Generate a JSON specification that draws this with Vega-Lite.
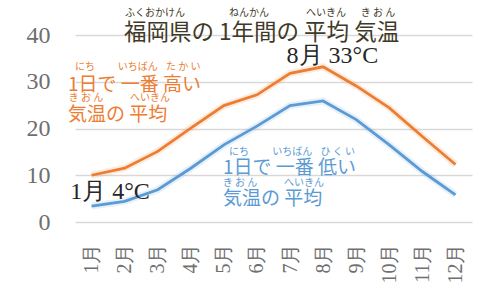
{
  "$schema": "https://vega.github.io/schema/vega-lite/v6.json",
  "width": 397,
  "height": 187,
  "autosize": {"type": "none"},
  "padding": {"left": 75, "top": 35, "right": 23, "bottom": 75},
  "background": "white",
  "config": {
    "view": {"stroke": null},
    "axisX": {"labelOverlap": false, "labelFlush": false, "labelBound": false, "labelSeparation": 0},
    "axisY": {"labelOverlap": false}
  },
  "datasets": {
    "temps": [
      {"month": 1, "high": 10.0, "low": 3.4},
      {"month": 2, "high": 11.5, "low": 4.4},
      {"month": 3, "high": 15.1, "low": 6.9},
      {"month": 4, "high": 20.1, "low": 11.5},
      {"month": 5, "high": 24.9, "low": 16.5},
      {"month": 6, "high": 27.2, "low": 20.5},
      {"month": 7, "high": 31.8, "low": 24.9},
      {"month": 8, "high": 33.2, "low": 25.9},
      {"month": 9, "high": 29.1, "low": 21.9},
      {"month": 10, "high": 24.4, "low": 16.5},
      {"month": 11, "high": 18.3, "low": 10.8},
      {"month": 12, "high": 12.3, "low": 5.8}
    ],
    "notes": [
      {"kind": "title", "text": "福岡県の 1年間の 平均 気温", "month": 6.14, "temp": 40.5},
      {"kind": "titleRuby", "text": "ふくおかけん", "month": 2.92, "temp": 44.65},
      {"kind": "titleRuby", "text": "ねんかん", "month": 5.76, "temp": 44.65},
      {"kind": "titleRuby", "text": "へいきん", "month": 8.09, "temp": 44.65},
      {"kind": "titleRuby", "text": "き お ん", "month": 9.66, "temp": 44.65},
      {"kind": "high", "text": "1日で 一番 高い", "month": 0.288, "temp": 29.4},
      {"kind": "high", "text": "気温の 平均", "month": 0.288, "temp": 22.8},
      {"kind": "highRuby", "text": "にち", "month": 0.80, "temp": 33.2},
      {"kind": "highRuby", "text": "いちばん", "month": 2.40, "temp": 33.2},
      {"kind": "highRuby", "text": "た か い", "month": 3.77, "temp": 33.2},
      {"kind": "highRuby", "text": "き お ん", "month": 0.83, "temp": 26.45},
      {"kind": "highRuby", "text": "へいきん", "month": 2.77, "temp": 26.45},
      {"kind": "low", "text": "1日で 一番 低い", "month": 4.97, "temp": 11.55},
      {"kind": "low", "text": "気温の 平均", "month": 4.97, "temp": 4.92},
      {"kind": "lowRuby", "text": "にち", "month": 5.46, "temp": 15.05},
      {"kind": "lowRuby", "text": "いちばん", "month": 7.07, "temp": 15.05},
      {"kind": "lowRuby", "text": "ひ く い", "month": 8.44, "temp": 15.05},
      {"kind": "lowRuby", "text": "き お ん", "month": 5.49, "temp": 8.3},
      {"kind": "lowRuby", "text": "へいきん", "month": 7.42, "temp": 8.3},
      {"kind": "peak", "text": "8月 33°C", "month": 8.28, "temp": 35.5},
      {"kind": "peak", "text": "1月 4°C", "month": 1.56, "temp": 6.48}
    ]
  },
  "encoding": {
    "x": {"field": "month", "type": "quantitative",
      "scale": {"domain": [0.5, 12.5], "nice": false, "zero": false},
      "axis": {"values": [1,2,3,4,5,6,7,8,9,10,11,12], "labelExpr": "datum.value + '月'", "labelAngle": -90,
        "grid": false, "domain": false, "ticks": false, "labelFont": "Liberation Serif", "labelFontSize": 20,
        "labelColor": "#6f6f6f", "labelPadding": 21, "labelFlush": false, "labelOverlap": false, "title": null}}
  },
  "layer": [
    {
      "data": {"name": "temps"},
      "mark": {"type": "line", "color": "#ED7D31", "strokeWidth": 7, "opacity": 0.15},
      "encoding": {
        "y": {"field": "high", "type": "quantitative",
          "scale": {"domain": [0, 40], "nice": false},
          "axis": {"values": [0,10,20,30,40], "grid": true, "gridColor": "#d9d9d9", "gridWidth": 1.5,
            "domain": false, "ticks": false, "labelFont": "Liberation Serif", "labelFontSize": 24,
            "labelColor": "#6f6f6f", "labelPadding": 25, "title": null}}
      }
    },
    {
      "data": {"name": "temps"},
      "mark": {"type": "line", "color": "#ED7D31", "strokeWidth": 2.8},
      "encoding": {"y": {"field": "high", "type": "quantitative"}}
    },
    {
      "data": {"name": "temps"},
      "mark": {"type": "line", "color": "#5B9BD5", "strokeWidth": 7, "opacity": 0.15},
      "encoding": {"y": {"field": "low", "type": "quantitative"}}
    },
    {
      "data": {"name": "temps"},
      "mark": {"type": "line", "color": "#5B9BD5", "strokeWidth": 2.8},
      "encoding": {"y": {"field": "low", "type": "quantitative"}}
    },
    {
      "data": {"name": "notes"},
      "transform": [{"filter": "datum.kind == 'title'"}],
      "mark": {"type": "text", "font": "Noto Sans CJK JP", "fontSize": 22.5, "align": "center", "baseline": "middle",
        "color": "#3f3a27"},
      "encoding": {"y": {"field": "temp", "type": "quantitative"}, "text": {"field": "text"}}
    },
    {
      "data": {"name": "notes"},
      "transform": [{"filter": "datum.kind == 'titleRuby'"}],
      "mark": {"type": "text", "font": "Noto Sans CJK JP", "fontSize": 10, "align": "center", "baseline": "middle",
        "color": "#3f3a27"},
      "encoding": {"y": {"field": "temp", "type": "quantitative"}, "text": {"field": "text"}}
    },
    {
      "data": {"name": "notes"},
      "transform": [{"filter": "datum.kind == 'high'"}],
      "mark": {"type": "text", "font": "Noto Sans CJK JP", "fontSize": 19, "align": "left", "baseline": "middle",
        "color": "#ED7D31"},
      "encoding": {"y": {"field": "temp", "type": "quantitative"}, "text": {"field": "text"}}
    },
    {
      "data": {"name": "notes"},
      "transform": [{"filter": "datum.kind == 'highRuby'"}],
      "mark": {"type": "text", "font": "Noto Sans CJK JP", "fontSize": 10, "align": "center", "baseline": "middle",
        "color": "#ED7D31"},
      "encoding": {"y": {"field": "temp", "type": "quantitative"}, "text": {"field": "text"}}
    },
    {
      "data": {"name": "notes"},
      "transform": [{"filter": "datum.kind == 'low'"}],
      "mark": {"type": "text", "font": "Noto Sans CJK JP", "fontSize": 19, "align": "left", "baseline": "middle",
        "color": "#5B9BD5"},
      "encoding": {"y": {"field": "temp", "type": "quantitative"}, "text": {"field": "text"}}
    },
    {
      "data": {"name": "notes"},
      "transform": [{"filter": "datum.kind == 'lowRuby'"}],
      "mark": {"type": "text", "font": "Noto Sans CJK JP", "fontSize": 10, "align": "center", "baseline": "middle",
        "color": "#5B9BD5"},
      "encoding": {"y": {"field": "temp", "type": "quantitative"}, "text": {"field": "text"}}
    },
    {
      "data": {"name": "notes"},
      "transform": [{"filter": "datum.kind == 'peak'"}],
      "mark": {"type": "text", "font": "Liberation Serif", "fontSize": 24, "align": "center", "baseline": "middle",
        "color": "#262626"},
      "encoding": {"y": {"field": "temp", "type": "quantitative"}, "text": {"field": "text"}}
    }
  ]
}
